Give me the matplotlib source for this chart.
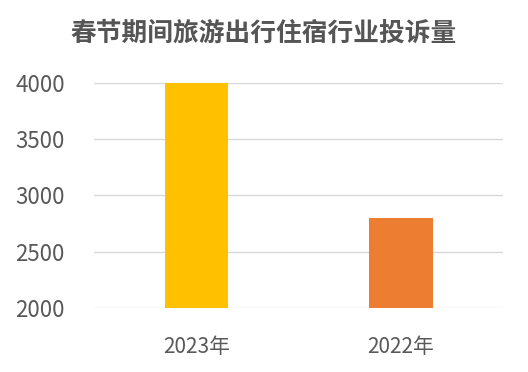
import matplotlib.pyplot as plt

plt.rcParams['font.family'] = ['Noto Sans CJK SC', 'DejaVu Sans']

years = ['2023年', '2022年']
complaints = [4000, 2800]
bar_colors = ['#FFC000', '#ED7D31']
y_ticks = [2000, 2500, 3000, 3500, 4000]

fig = plt.figure(figsize=(5.28, 3.72), dpi=100)
ax = fig.add_axes([0.178, 0.172, 0.775, 0.605])

ax.bar(range(len(years)), complaints, width=0.31, color=bar_colors, zorder=3)

ax.set_ylim(2000, 4000)
ax.set_xlim(-0.5, len(years) - 0.5)
ax.set_yticks(y_ticks)
ax.set_xticks(range(len(years)))
ax.set_xticklabels(years)
ax.grid(axis='y', color='#d9d9d9', linewidth=1, zorder=0)
ax.tick_params(axis='y', length=0, labelsize=16, labelcolor='#595959', pad=21)
ax.tick_params(axis='x', length=0, labelsize=15, labelcolor='#595959', pad=20)
for side in ['top', 'right', 'left', 'bottom']:
    ax.spines[side].set_visible(False)

fig.text(0.5, 0.91, '春节期间旅游出行住宿行业投诉量', ha='center', va='center',
         fontsize=18.5, fontweight='bold', color='#555555')

fig.savefig('out.png', dpi=100)
